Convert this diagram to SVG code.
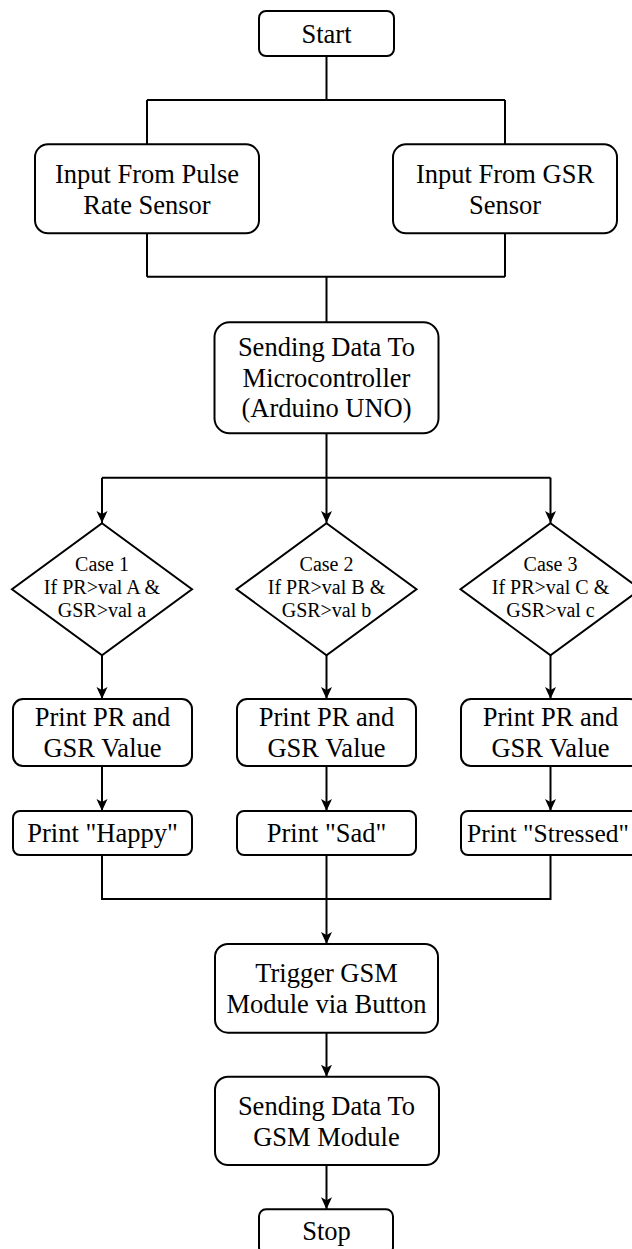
<svg xmlns="http://www.w3.org/2000/svg" width="632" height="1249" viewBox="0 0 632 1249">
<style>
.box{fill:#fff;stroke:#000;stroke-width:2}
.ln{fill:none;stroke:#000;stroke-width:2}
.t{font-family:"Liberation Serif","Times New Roman",serif;font-size:26.5px;fill:#000;text-anchor:middle}
.d{font-family:"Liberation Serif","Times New Roman",serif;font-size:20px;fill:#000;text-anchor:middle}
</style>
<defs>
<marker id="arr" viewBox="0 0 12 12" refX="12" refY="6" markerWidth="12" markerHeight="12" markerUnits="userSpaceOnUse" orient="auto">
<path d="M0,0.5 L12,6 L0,11.5 L3,6 Z" fill="#000"/>
</marker>
</defs>
<rect width="632" height="1249" fill="#fff"/>
<g id="connectors">
<path class="ln" d="M326.5,56 V100 M147,100 H505 M147,100 V144.3 M505,100 V144.3"/>
<path class="ln" d="M147,233.3 V276.7 M505,233.3 V276.7 M147,276.7 H505 M326.5,276.7 V322.3"/>
<path class="ln" d="M326.5,433.3 V477.7 M102,477.7 H550.5"/>
<path class="ln" d="M102,477.7 V523" marker-end="url(#arr)"/>
<path class="ln" d="M326.5,477.7 V523" marker-end="url(#arr)"/>
<path class="ln" d="M550.5,477.7 V523" marker-end="url(#arr)"/>
<path class="ln" d="M102,655 V699" marker-end="url(#arr)"/>
<path class="ln" d="M326.5,655 V699" marker-end="url(#arr)"/>
<path class="ln" d="M550.5,655 V699" marker-end="url(#arr)"/>
<path class="ln" d="M102,766 V811" marker-end="url(#arr)"/>
<path class="ln" d="M326.5,766 V811" marker-end="url(#arr)"/>
<path class="ln" d="M550.5,766 V811" marker-end="url(#arr)"/>
<path class="ln" d="M102,855 V899 H550.5 V855"/>
<path class="ln" d="M326.5,855 V944" marker-end="url(#arr)"/>
<path class="ln" d="M326.5,1032.7 V1076.7" marker-end="url(#arr)"/>
<path class="ln" d="M326.5,1165 V1209.3" marker-end="url(#arr)"/>
</g>
<g id="start">
<rect class="box" x="259" y="11" width="135" height="45" rx="7"/>
<text class="t" x="326.5" y="43">Start</text>
</g>
<g id="input-pulse">
<rect class="box" x="35" y="144.3" width="224" height="89" rx="13"/>
<text class="t" x="147" y="183.3">Input From Pulse</text>
<text class="t" x="147" y="214">Rate Sensor</text>
</g>
<g id="input-gsr">
<rect class="box" x="393" y="144.3" width="224" height="89" rx="13"/>
<text class="t" x="505" y="183.3">Input From GSR</text>
<text class="t" x="505" y="214">Sensor</text>
</g>
<g id="send-mcu">
<rect class="box" x="214.5" y="322.3" width="224" height="111" rx="15"/>
<text class="t" x="326.5" y="355.7">Sending Data To</text>
<text class="t" x="326.5" y="386.7">Microcontroller</text>
<text class="t" x="326.5" y="416.7">(Arduino UNO)</text>
</g>
<g id="case1">
<polygon class="box" points="102,523.3 192,589.3 102,655.3 12,589.3"/>
<text class="d" x="102" y="571">Case 1</text>
<text class="d" x="102" y="594">If PR&gt;val A &amp;</text>
<text class="d" x="102" y="617">GSR&gt;val a</text>
</g>
<g id="case2">
<polygon class="box" points="326.5,523.3 416.5,589.3 326.5,655.3 236.5,589.3"/>
<text class="d" x="326.5" y="571">Case 2</text>
<text class="d" x="326.5" y="594">If PR&gt;val B &amp;</text>
<text class="d" x="326.5" y="617">GSR&gt;val b</text>
</g>
<g id="case3">
<polygon class="box" points="550.5,523.3 640.5,589.3 550.5,655.3 460.5,589.3"/>
<text class="d" x="550.5" y="571">Case 3</text>
<text class="d" x="550.5" y="594">If PR&gt;val C &amp;</text>
<text class="d" x="550.5" y="617">GSR&gt;val c</text>
</g>
<g id="print1">
<rect class="box" x="13" y="699" width="179" height="67" rx="10"/>
<text class="t" x="102.5" y="725.7">Print PR and</text>
<text class="t" x="102.5" y="757.3">GSR Value</text>
</g>
<g id="print2">
<rect class="box" x="237" y="699" width="179" height="67" rx="10"/>
<text class="t" x="326.5" y="725.7">Print PR and</text>
<text class="t" x="326.5" y="757.3">GSR Value</text>
</g>
<g id="print3">
<rect class="box" x="461" y="699" width="179" height="67" rx="10"/>
<text class="t" x="550.5" y="725.7">Print PR and</text>
<text class="t" x="550.5" y="757.3">GSR Value</text>
</g>
<g id="happy">
<rect class="box" x="13" y="811" width="179" height="44" rx="7"/>
<text class="t" x="102.5" y="842">Print "Happy"</text>
</g>
<g id="sad">
<rect class="box" x="237" y="811" width="179" height="44" rx="7"/>
<text class="t" x="326.5" y="842">Print "Sad"</text>
</g>
<g id="stressed">
<rect class="box" x="461" y="811" width="179" height="44" rx="7"/>
<text class="t" x="548" y="842" style="font-size:25.5px">Print "Stressed"</text>
</g>
<g id="trigger">
<rect class="box" x="215" y="944" width="223" height="88.7" rx="13"/>
<text class="t" x="326.5" y="981.7">Trigger GSM</text>
<text class="t" x="326.5" y="1012.7">Module via Button</text>
</g>
<g id="send-gsm">
<rect class="box" x="215" y="1076.7" width="224" height="88.3" rx="13"/>
<text class="t" x="326.5" y="1115">Sending Data To</text>
<text class="t" x="326.5" y="1146">GSM Module</text>
</g>
<g id="stop">
<rect class="box" x="259" y="1209.3" width="134" height="45" rx="7"/>
<text class="t" x="326.5" y="1240">Stop</text>
</g>
</svg>
